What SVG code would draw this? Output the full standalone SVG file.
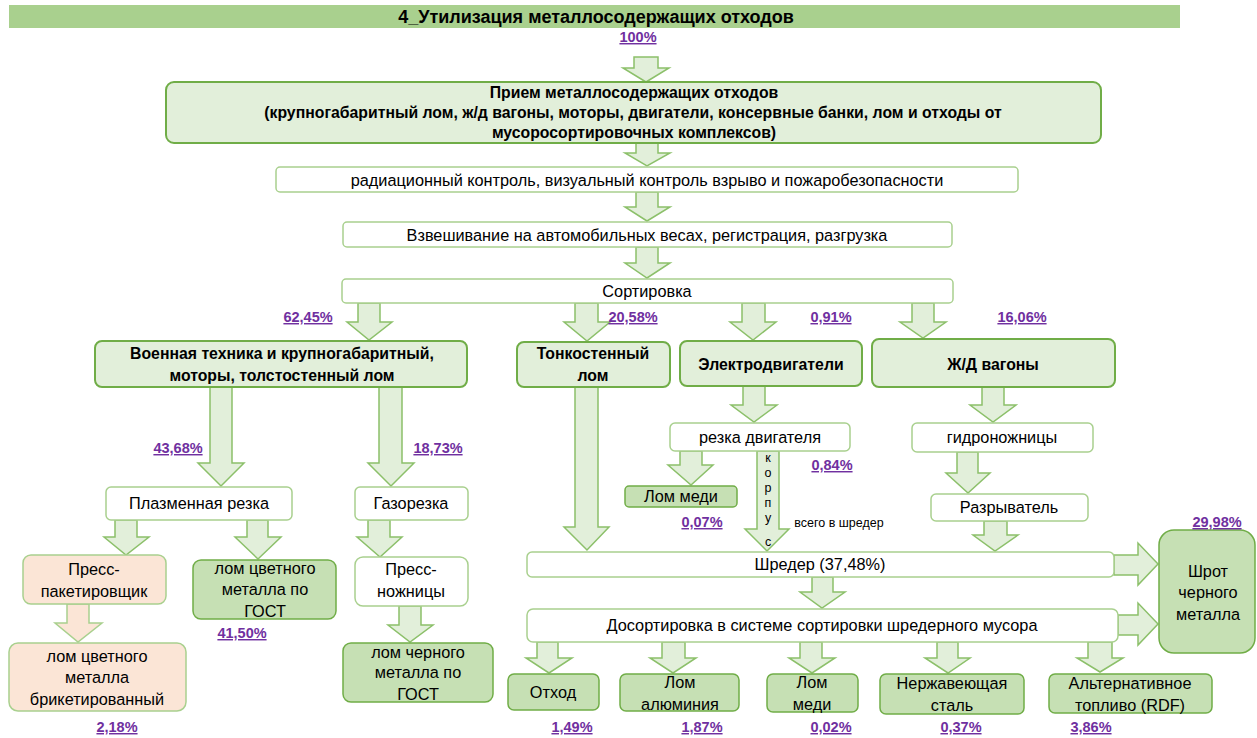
<svg xmlns="http://www.w3.org/2000/svg" width="1257" height="738" viewBox="0 0 1257 738">
<style>
text{font-family:"Liberation Sans",Arial,sans-serif;fill:#000;text-anchor:middle}
.n{font-size:16.3px}
.b{font-size:15.8px;font-weight:bold}
.s{font-size:12.5px}
.p{font-size:14.5px;font-weight:bold;fill:#7030a0;text-decoration:underline}
.w{fill:#fff;stroke:#a9d08e;stroke-width:1.5}
.lg{fill:#e2efda;stroke:#70ad47;stroke-width:2}
.dg{fill:#c6e0b4;stroke:#70ad47;stroke-width:1.5}
.pk{fill:#fbe5d6;stroke:#a9d08e;stroke-width:1.5}
.ar{fill:#e2efda;stroke:#8cc06a;stroke-width:1.5;stroke-linejoin:miter}
.ap{fill:#fbe5d6;stroke:#a9d08e;stroke-width:1.5}
</style>
<rect x="9" y="5" width="1171" height="23" fill="#a9d08e"/>
<text x="596" y="23" style="font-size:18px;font-weight:bold">4_Утилизация металлосодержащих отходов</text>
<text x="638" y="42" class="p">100%</text>

<g id="connectors">
<polygon class="ar" points="634,57 658,57 658,68 669,68 646,82 623,68 634,68"/>
<polygon class="ar" points="636,143 658,143 658,153 670,153 647,166 625,153 636,153"/>
<polygon class="ar" points="636,192 658,192 658,207 670,207 647,221 625,207 636,207"/>
<polygon class="ar" points="636,247 658,247 658,263 670,263 647,278 625,263 636,263"/>
<polygon class="ar" points="358,303 380,303 380,322 392,322 369,340 347,322 358,322"/>
<polygon class="ar" points="575,303 598,303 598,322 610,322 587,341 564,322 575,322"/>
<polygon class="ar" points="742,303 765,303 765,322 776,322 753,340 730,322 742,322"/>
<polygon class="ar" points="912,303 934,303 934,322 946,322 923,338 900,322 912,322"/>
<polygon class="ar" points="210,387 232,387 232,463 244,463 221,486 198,463 210,463"/>
<polygon class="ar" points="379,387 402,387 402,463 414,463 391,486 368,463 379,463"/>
<polygon class="ar" points="115,520 137,520 137,537 149,537 126,555 104,537 115,537"/>
<polygon class="ar" points="247,520 268,520 268,537 281,537 258,559 235,537 247,537"/>
<polygon class="ap" points="67,604 89,604 89,623 102,623 78,642 55,623 67,623"/>
<polygon class="ar" points="368,520 390,520 390,537 402,537 380,557 357,537 368,537"/>
<polygon class="ar" points="399,606 421,606 421,625 433,625 410,642 388,625 399,625"/>
<polygon class="ar" points="575,387 598,387 598,527 609,527 587,550 564,527 575,527"/>
<polygon class="ar" points="743,386 765,386 765,405 777,405 754,422 731,405 743,405"/>
<polygon class="ar" points="982,387 1004,387 1004,405 1016,405 993,422 970,405 982,405"/>
<polygon class="ar" points="957,452 978,452 978,473 990,473 968,493 946,473 957,473"/>
<polygon class="ar" points="984,521 1007,521 1007,535 1018,535 995,551 973,535 984,535"/>
<polygon class="ar" points="680,451 702,451 702,465 713,465 691,485 668,465 680,465"/>
<polygon class="ar" points="757,451 779,451 779,529 789,529 767,551 745,529 757,529"/>
<polygon class="ar" points="812,577 833,577 833,592 845,592 822,608 800,592 812,592"/>
<polygon class="ar" points="1114,555 1138,555 1138,543 1158,564 1138,585 1138,575 1114,575"/>
<polygon class="ar" points="1118,615 1138,615 1138,603 1158,624 1138,645 1138,635 1118,635"/>
<polygon class="ar" points="537,642 558,642 558,658 572,658 549,673 526,658 537,658"/>
<polygon class="ar" points="662,642 685,642 685,658 696,658 673,673 650,658 662,658"/>
<polygon class="ar" points="800,642 822,642 822,658 835,658 812,673 789,658 800,658"/>
<polygon class="ar" points="937,642 958,642 958,658 970,658 948,673 925,658 937,658"/>
<polygon class="ar" points="1088,642 1112,642 1112,658 1123,658 1100,672 1077,658 1088,658"/>
</g>

<g id="korpus-label">
<text x="768" y="462" class="s">к</text>
<text x="768" y="477" class="s">о</text>
<text x="768" y="492" class="s">р</text>
<text x="768" y="507" class="s">п</text>
<text x="768" y="522" class="s">у</text>
<text x="768" y="546" class="s">с</text>
<text x="839" y="527" class="s">всего в шредер</text>
</g>

<g id="n-priem">
<rect x="166" y="82" width="935" height="61" rx="8" class="lg"/>
<text x="634" y="98" class="b">Прием металлосодержащих отходов</text>
<text x="633" y="118" class="b">(крупногабаритный лом, ж/д вагоны, моторы, двигатели, консервные банки, лом и отходы от</text>
<text x="634" y="138" class="b">мусоросортировочных комплексов)</text>
</g>
<g id="n-radiac">
<rect x="276" y="167" width="742" height="25" rx="4" class="w"/>
<text x="647" y="186" class="n">радиационный контроль, визуальный контроль взрыво и пожаробезопасности</text>
</g>
<g id="n-vzvesh">
<rect x="343" y="222" width="609" height="25" rx="4" class="w"/>
<text x="647" y="241" class="n">Взвешивание на автомобильных весах, регистрация, разгрузка</text>
</g>
<g id="n-sort">
<rect x="342" y="279" width="611" height="24" rx="4" class="w"/>
<text x="647" y="297" class="n">Сортировка</text>
</g>
<text x="308" y="322" class="p">62,45%</text>
<text x="633" y="322" class="p">20,58%</text>
<text x="831" y="322" class="p">0,91%</text>
<text x="1022" y="322" class="p">16,06%</text>

<g id="n-voen">
<rect x="95" y="341" width="372" height="46" rx="7" class="lg"/>
<text x="282" y="359" class="b">Военная техника и крупногабаритный,</text>
<text x="282" y="381" class="b">моторы, толстостенный лом</text>
</g>
<g id="n-tonk">
<rect x="517" y="342" width="153" height="45" rx="7" class="lg"/>
<text x="593" y="359" class="b">Тонкостенный</text>
<text x="593" y="381" class="b">лом</text>
</g>
<g id="n-elektro">
<rect x="680" y="341" width="182" height="45" rx="7" class="lg"/>
<text x="771" y="370" class="b">Электродвигатели</text>
</g>
<g id="n-zhd">
<rect x="872" y="339" width="243" height="48" rx="7" class="lg"/>
<text x="993" y="370" class="b">Ж/Д вагоны</text>
</g>

<text x="178" y="453" class="p">43,68%</text>
<text x="438" y="453" class="p">18,73%</text>

<g id="n-plazma">
<rect x="106" y="487" width="186" height="33" rx="5" class="w"/>
<text x="199" y="509" class="n">Плазменная резка</text>
</g>
<g id="n-gazorez">
<rect x="355" y="487" width="113" height="33" rx="5" class="w"/>
<text x="411" y="509" class="n">Газорезка</text>
</g>
<g id="n-rezka">
<rect x="670" y="423" width="180" height="28" rx="5" class="w"/>
<text x="760" y="443" class="n">резка двигателя</text>
</g>
<g id="n-gidro">
<rect x="912" y="423" width="181" height="29" rx="5" class="w"/>
<text x="1002" y="443" class="n">гидроножницы</text>
</g>
<text x="832" y="470" class="p">0,84%</text>
<g id="n-lommedi1">
<rect x="625" y="486" width="112" height="21" rx="4" class="dg"/>
<text x="681" y="502" class="n">Лом меди</text>
</g>
<text x="702" y="527" class="p">0,07%</text>
<g id="n-razryv">
<rect x="931" y="494" width="157" height="27" rx="5" class="w"/>
<text x="1009" y="513" class="n">Разрыватель</text>
</g>

<g id="n-presspaket">
<rect x="23" y="555" width="143" height="49" rx="8" class="pk"/>
<text x="94" y="575" class="n">Пресс-</text>
<text x="94" y="597" class="n">пакетировщик</text>
</g>
<g id="n-lomcvet-gost">
<rect x="193" y="560" width="143" height="59" rx="8" class="dg"/>
<text x="265" y="574" class="n">лом цветного</text>
<text x="265" y="595" class="n">металла по</text>
<text x="265" y="617" class="n">ГОСТ</text>
</g>
<text x="242" y="638" class="p">41,50%</text>
<g id="n-pressnozh">
<rect x="355" y="557" width="113" height="49" rx="8" class="w"/>
<text x="411" y="575" class="n">Пресс-</text>
<text x="411" y="597" class="n">ножницы</text>
</g>
<g id="n-lombriket">
<rect x="9" y="643" width="177" height="68" rx="9" class="pk"/>
<text x="97" y="662" class="n">лом цветного</text>
<text x="97" y="683" class="n">металла</text>
<text x="97" y="705" class="n">брикетированный</text>
</g>
<text x="117" y="732" class="p">2,18%</text>
<g id="n-lomchern-gost">
<rect x="343" y="643" width="150" height="59" rx="8" class="dg"/>
<text x="418" y="658" class="n">лом черного</text>
<text x="418" y="678" class="n">металла по</text>
<text x="418" y="700" class="n">ГОСТ</text>
</g>

<g id="n-shreder">
<rect x="527" y="552" width="587" height="25" rx="5" class="w"/>
<text x="820" y="570" class="n">Шредер (37,48%)</text>
</g>
<g id="n-dosort">
<rect x="527" y="609" width="591" height="33" rx="6" class="w"/>
<text x="822" y="631" class="n">Досортировка в системе сортировки шредерного мусора</text>
</g>
<g id="n-shrot">
<rect x="1159" y="530" width="96" height="123" rx="15" class="dg"/>
<text x="1208" y="577" class="n">Шрот</text>
<text x="1208" y="598" class="n">черного</text>
<text x="1208" y="620" class="n">металла</text>
</g>
<text x="1217" y="527" class="p">29,98%</text>

<g id="n-othod">
<rect x="508" y="674" width="91" height="36" rx="6" class="dg"/>
<text x="553" y="698" class="n">Отход</text>
</g>
<g id="n-alum">
<rect x="620" y="674" width="119" height="37" rx="6" class="dg"/>
<text x="680" y="688" class="n">Лом</text>
<text x="680" y="710" class="n">алюминия</text>
</g>
<g id="n-lommedi2">
<rect x="767" y="674" width="91" height="38" rx="6" class="dg"/>
<text x="812" y="688" class="n">Лом</text>
<text x="812" y="710" class="n">меди</text>
</g>
<g id="n-nerzh">
<rect x="880" y="674" width="144" height="40" rx="6" class="dg"/>
<text x="952" y="689" class="n">Нержавеющая</text>
<text x="952" y="711" class="n">сталь</text>
</g>
<g id="n-rdf">
<rect x="1049" y="674" width="163" height="39" rx="6" class="dg"/>
<text x="1130" y="689" class="n">Альтернативное</text>
<text x="1130" y="711" class="n">топливо (RDF)</text>
</g>
<text x="572" y="732" class="p">1,49%</text>
<text x="702" y="732" class="p">1,87%</text>
<text x="831" y="732" class="p">0,02%</text>
<text x="961" y="732" class="p">0,37%</text>
<text x="1091" y="732" class="p">3,86%</text>
</svg>
